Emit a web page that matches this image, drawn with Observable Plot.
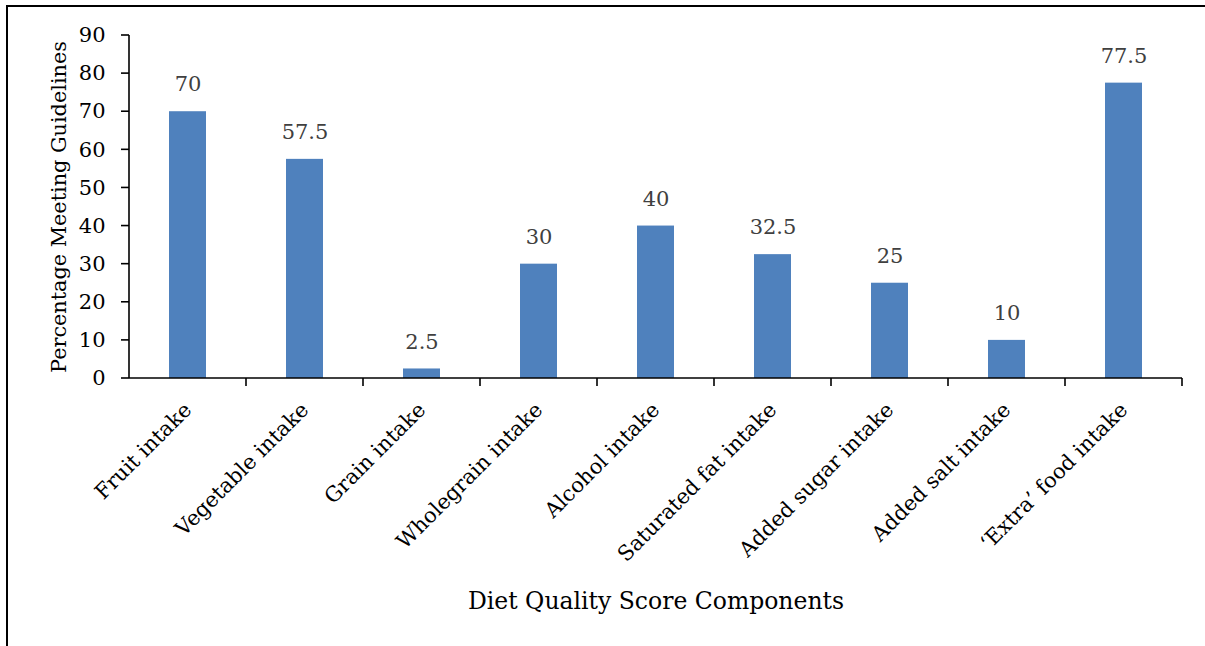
<!DOCTYPE html>
<html><head><meta charset="utf-8">
<script src="https://cdn.jsdelivr.net/npm/d3@7"></script>
<script src="https://cdn.jsdelivr.net/npm/@observablehq/plot@0.6"></script>
<style>
body{margin:0;background:#fff;overflow:hidden;}
#frame{position:absolute;left:6px;top:5px;width:1400px;height:800px;border-left:2px solid #000;border-top:2px solid #000;}
#chart{position:absolute;left:0;top:0;}
svg text{font-family:'DejaVu Serif', serif;}
</style></head><body>
<div id="frame"></div><div id="chart"></div>
<script>
const categories = ["Fruit intake","Vegetable intake","Grain intake","Wholegrain intake","Alcohol intake","Saturated fat intake","Added sugar intake","Added salt intake","\u2018Extra\u2019 food intake"];
const values = [70, 57.5, 2.5, 30, 40, 32.5, 25, 10, 77.5];
const yTicks = [0, 10, 20, 30, 40, 50, 60, 70, 80, 90];
const xTitle = "Diet Quality Score Components";
const yTitle = "Percentage Meeting Guidelines";

const data = categories.map((c, i) => ({component: c, pct: values[i]}));
const font = "'DejaVu Serif', serif";

function axisLines(index, scales, values_, dim) {
  const x = scales.x, y = scales.y;
  const bw = x.bandwidth(), st = x.step();
  const g = d3.create("svg:g").attr("stroke", "#000").attr("stroke-width", 1.6).attr("fill", "none");
  const left = x(categories[0]) + bw / 2 - st / 2;
  const right = x(categories[categories.length - 1]) + bw / 2 + st / 2;
  const y0 = y(0);
  g.append("line").attr("x1", left).attr("x2", right).attr("y1", y0).attr("y2", y0);
  g.append("line").attr("x1", left).attr("x2", left).attr("y1", y(d3.max(yTicks))).attr("y2", y0);
  categories.forEach(c => {
    const bx = x(c) + bw / 2 + st / 2;
    g.append("line").attr("x1", bx).attr("x2", bx).attr("y1", y0).attr("y2", y0 + 8);
  });
  yTicks.forEach(t => {
    g.append("line").attr("x1", left - 8).attr("x2", left).attr("y1", y(t)).attr("y2", y(t));
  });
  return g.node();
}

const chart = Plot.plot({
  width: 1205, height: 646,
  marginLeft: 129, marginRight: 23, marginTop: 35, marginBottom: 268,
  style: {fontFamily: font, background: "transparent", color: "#000"},
  x: {domain: categories, paddingInner: 0.684, paddingOuter: 0.342},
  y: {domain: [0, 90]},
  marks: [
    Plot.barY(data, {x: "component", y: "pct", fill: "#4f81bd"}),
    Plot.text(data, {x: "component", y: "pct", text: d => String(d.pct), dy: -27, fill: "#404040", fontSize: 21, fontFamily: font}),
    Plot.axisY({ticks: yTicks, tickSize: 0, tickPadding: 24, fontSize: 21, fontFamily: font, tickFormat: d => String(d),
      label: yTitle, labelAnchor: "center", labelArrow: "none", labelOffset: 78}),
    Plot.axisX({tickSize: 0, tickPadding: 28, tickRotate: -45, fontSize: 21, fontFamily: font,
      label: xTitle, labelAnchor: "center", labelArrow: "none", labelOffset: 230}),
    axisLines
  ]
});
chart.querySelectorAll("[aria-label='y-axis label'] text").forEach(t => t.setAttribute("font-size", 20.8));
chart.querySelectorAll("[aria-label='x-axis label'] text").forEach(t => t.setAttribute("font-size", 23.5));
document.getElementById("chart").appendChild(chart);
</script>
</body></html>
